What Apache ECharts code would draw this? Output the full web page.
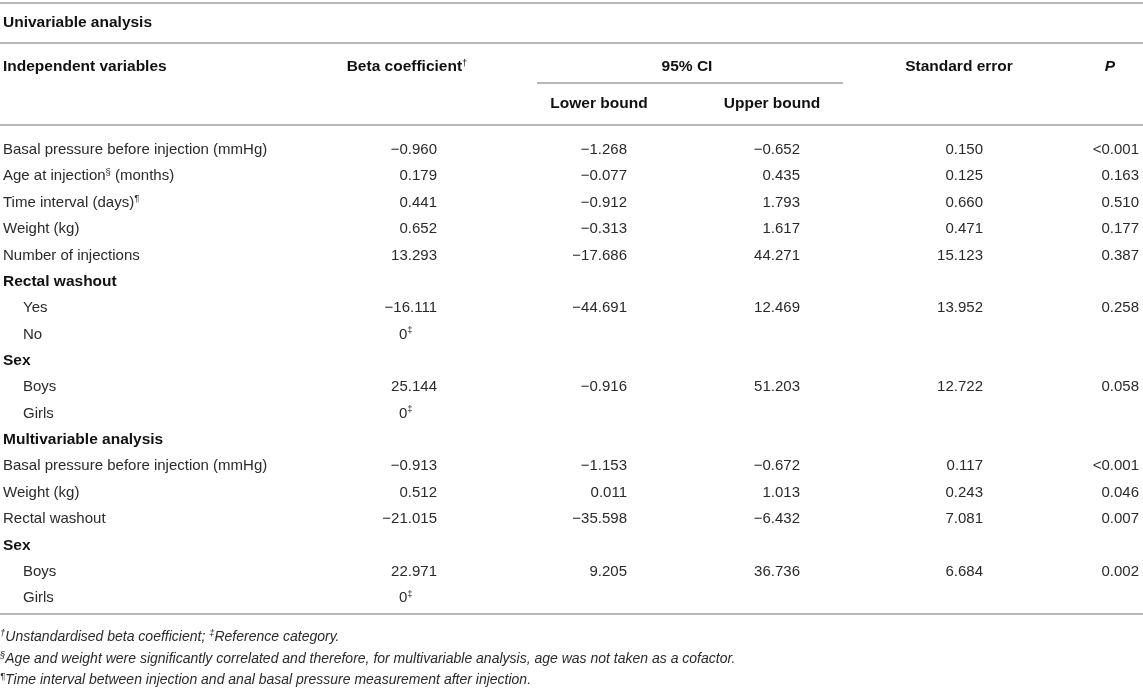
<!DOCTYPE html>
<html>
<head>
<meta charset="utf-8">
<script src="https://cdn.jsdelivr.net/npm/echarts@6/dist/echarts.min.js"></script>
<style>
  html, body { margin: 0; padding: 0; background: #fff; }
  #main { width: 1143px; height: 688px; }
</style>
</head>
<body>
<div id="main"></div>
<script>
// table content, one array per column
var rowLabels = [
  'Basal pressure before injection (mmHg)',
  'Age at injection{s|§} (months)',
  'Time interval (days){s|¶}',
  'Weight (kg)',
  'Number of injections',
  'Rectal washout',
  'Yes',
  'No',
  'Sex',
  'Boys',
  'Girls',
  'Multivariable analysis',
  'Basal pressure before injection (mmHg)',
  'Weight (kg)',
  'Rectal washout',
  'Sex',
  'Boys',
  'Girls'
];
// 0 = plain, 1 = bold group heading, 2 = indented level
var rowKinds = [0, 0, 0, 0, 0, 1, 2, 2, 1, 2, 2, 1, 0, 0, 0, 1, 2, 2];
var beta  = [-0.960, 0.179, 0.441, 0.652, 13.293, null, -16.111, 0, null, 25.144, 0, null, -0.913, 0.512, -21.015, null, 22.971, 0];
var lower = [-1.268, -0.077, -0.912, -0.313, -17.686, null, -44.691, null, null, -0.916, null, null, -1.153, 0.011, -35.598, null, 9.205, null];
var upper = [-0.652, 0.435, 1.793, 1.617, 44.271, null, 12.469, null, null, 51.203, null, null, -0.672, 1.013, -6.432, null, 36.736, null];
var stdErr = [0.150, 0.125, 0.660, 0.471, 15.123, null, 13.952, null, null, 12.722, null, null, 0.117, 0.243, 7.081, null, 6.684, null];
var pValues = ['<0.001', '0.163', '0.510', '0.177', '0.387', '', '0.258', '', '', '0.058', '', '', '<0.001', '0.046', '0.007', '', '0.002', ''];
// rows where beta is the reference category
var refRows = [7, 10, 17];

var footnotes = [
  '{s|†}Unstandardised beta coefficient; {s|‡}Reference category.',
  '{s|§}Age and weight were significantly correlated and therefore, for multivariable analysis, age was not taken as a cofactor.',
  '{s|¶}Time interval between injection and anal basal pressure measurement after injection.'
];

// layout
var W = 1143, H = 688;
var FONT = '"Liberation Sans", Arial, Helvetica, sans-serif';
var TXT = '#2a2a2a';
var HEAD = '#111';
var RULE = '#b8b8b8';
var colRight = [437, 627, 800, 983, 1139];   // numeric columns, right aligned
var firstRowY = 150, rowStep = 26.35;
var BODY = 15, HSIZE = 15.5, FOOT = 14;

function rowY(i) { return firstRowY + rowStep * i; }
function fmt(v) {
  if (v === null || v === undefined) return '';
  return v.toFixed(3).replace('-', '\u2212');
}

// every text cell: [x, y, text, align, weight, style, size, colour]
var cells = [];
cells.push([3, 23, 'Univariable analysis', 'left', 'bold', 'normal', HSIZE, HEAD]);
cells.push([3, 67, 'Independent variables', 'left', 'bold', 'normal', HSIZE, HEAD]);
cells.push([407, 67, 'Beta coefficient{s|†}', 'center', 'bold', 'normal', HSIZE, HEAD]);
cells.push([687, 67, '95% CI', 'center', 'bold', 'normal', HSIZE, HEAD]);
cells.push([599, 104, 'Lower bound', 'center', 'bold', 'normal', HSIZE, HEAD]);
cells.push([772, 104, 'Upper bound', 'center', 'bold', 'normal', HSIZE, HEAD]);
cells.push([959, 67, 'Standard error', 'center', 'bold', 'normal', HSIZE, HEAD]);
cells.push([1110, 67, 'P', 'center', 'bold', 'italic', HSIZE, HEAD]);

rowLabels.forEach(function (lab, i) {
  var y = rowY(i);
  var kind = rowKinds[i];
  if (kind === 1) {
    cells.push([3, y, lab, 'left', 'bold', 'normal', HSIZE, HEAD]);
  } else {
    cells.push([kind === 2 ? 23 : 3, y, lab, 'left', 'normal', 'normal', BODY, TXT]);
  }
  if (refRows.indexOf(i) >= 0) {
    cells.push([399, y, '0{s|‡}', 'left', 'normal', 'normal', BODY, TXT]);
  } else {
    cells.push([colRight[0], y, fmt(beta[i]), 'right', 'normal', 'normal', BODY, TXT]);
  }
  cells.push([colRight[1], y, fmt(lower[i]), 'right', 'normal', 'normal', BODY, TXT]);
  cells.push([colRight[2], y, fmt(upper[i]), 'right', 'normal', 'normal', BODY, TXT]);
  cells.push([colRight[3], y, fmt(stdErr[i]), 'right', 'normal', 'normal', BODY, TXT]);
  cells.push([colRight[4], y, pValues[i], 'right', 'normal', 'normal', BODY, TXT]);
});

var footY = [637, 659, 680];
footnotes.forEach(function (t, i) {
  cells.push([0, footY[i], t, 'left', 'normal', 'italic', FOOT, TXT]);
});
cells = cells.filter(function (c) { return c[2] !== ''; });

// horizontal rules: [x1, x2, y]
var rules = [
  [0, W, 3],
  [0, W, 43],
  [537, 843, 83],
  [0, W, 125],
  [0, W, 614]
];

var chart = echarts.init(document.getElementById('main'));
chart.setOption({
  animation: false,
  backgroundColor: '#fff',
  grid: { left: 0, right: 0, top: 0, bottom: 0 },
  xAxis: { type: 'value', min: 0, max: W, show: false },
  yAxis: { type: 'value', min: 0, max: H, inverse: true, show: false },
  series: [
    {
      type: 'custom',
      data: rules,
      renderItem: function (params, api) {
        var a = api.coord([api.value(0), api.value(2)]);
        var b = api.coord([api.value(1), api.value(2)]);
        return {
          type: 'line',
          shape: { x1: a[0], y1: a[1], x2: b[0], y2: b[1] },
          style: { stroke: RULE, lineWidth: 2 }
        };
      }
    },
    {
      type: 'custom',
      data: cells,
      renderItem: function (params, api) {
        var c = cells[params.dataIndex];
        var p = api.coord([c[0], c[1]]);
        return {
          type: 'text',
          x: p[0],
          y: p[1],
          style: {
            text: c[2],
            align: c[3],
            verticalAlign: 'middle',
            fontFamily: FONT,
            fontSize: c[6],
            fontWeight: c[4],
            fontStyle: c[5],
            lineHeight: 18,
            fill: c[7],
            rich: {
              s: { fontSize: 9.5, lineHeight: 10, verticalAlign: 'top', fontFamily: FONT, fontStyle: c[5], fill: c[7] }
            }
          }
        };
      }
    }
  ]
});
</script>
</body>
</html>
